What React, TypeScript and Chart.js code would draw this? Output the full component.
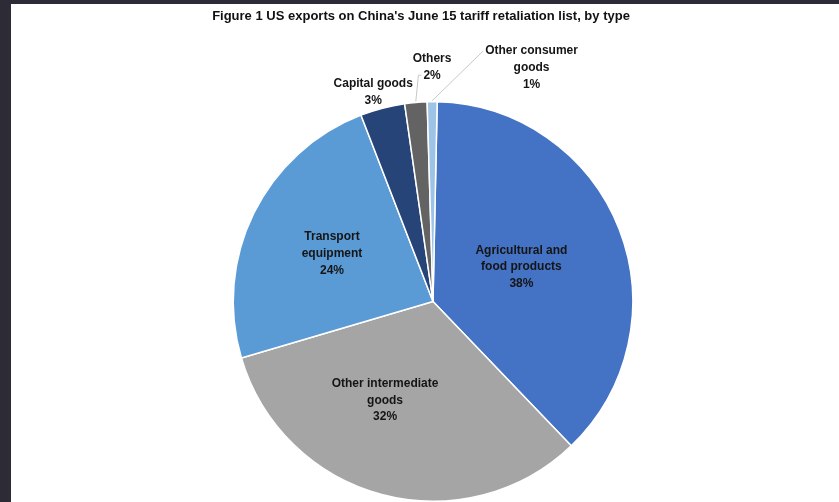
import React, { useEffect, useRef } from "react";
import { Chart, registerables } from "chart.js";

Chart.register(...registerables);

// ---- data ----
const categories = [
  "Agricultural and food products",
  "Other intermediate goods",
  "Transport equipment",
  "Capital goods",
  "Others",
  "Other consumer goods",
];
const labelLines = [
  ["Agricultural and", "food products"],
  ["Other intermediate", "goods"],
  ["Transport", "equipment"],
  ["Capital goods"],
  ["Others"],
  ["Other consumer", "goods"],
];
const shares = [37.5, 32.6, 23.7, 3.6, 1.8, 0.8];
const percentLabels = ["38%", "32%", "24%", "3%", "2%", "1%"];
const sliceColors = ["#4472C4", "#A5A5A5", "#5B9BD5", "#264478", "#636363", "#9DC3E6"];
const titleText = "Figure 1 US exports on China's June 15 tariff retaliation list, by type";

const FONT = "'Liberation Sans', Arial, sans-serif";

const labelPlugin = {
  id: "sliceLabels",
  afterDatasetsDraw(chart: any, _args: any, opts: any) {
    const ctx = chart.ctx as CanvasRenderingContext2D;
    const meta = chart.getDatasetMeta(0);
    ctx.save();
    ctx.textAlign = "center";
    ctx.textBaseline = "middle";
    ctx.fillStyle = opts.color;
    ctx.font = `bold ${opts.fontSize}px ${FONT}`;
    meta.data.forEach((arc: any, i: number) => {
      const p = opts.placements[i];
      const { x, y, startAngle, endAngle, outerRadius } = arc.getProps(
        ["x", "y", "startAngle", "endAngle", "outerRadius"],
        true
      );
      const midA = (startAngle + endAngle) / 2;
      const a = midA + (p.da * Math.PI) / 180;
      const cx = x + Math.cos(a) * outerRadius * p.k;
      const cy = y + Math.sin(a) * outerRadius * p.k;
      const lines = [...labelLines[i], percentLabels[i]];
      const lh = opts.lineHeight;
      lines.forEach((t, j) => {
        ctx.fillText(t, cx, cy + (j - (lines.length - 1) / 2) * lh);
      });
      if (p.leader) {
        const li = p.leader.line;
        const ty = cy + (li - (lines.length - 1) / 2) * lh;
        const tw = ctx.measureText(lines[li]).width;
        const sx = cx - tw / 2 - 2;
        const ex = x + Math.cos(midA) * (outerRadius + 1);
        const ey = y + Math.sin(midA) * (outerRadius + 1);
        ctx.save();
        ctx.strokeStyle = opts.leaderColor;
        ctx.lineWidth = 1;
        ctx.beginPath();
        ctx.moveTo(sx, ty);
        ctx.lineTo(sx - p.leader.dash, ty);
        ctx.lineTo(ex, ey);
        ctx.stroke();
        ctx.restore();
      }
    });
    // title
    ctx.font = `bold ${opts.titleSize}px ${FONT}`;
    ctx.fillStyle = "#111111";
    ctx.fillText(titleText, chart.width / 2 - 4, opts.titleY);
    ctx.restore();
  },
};

export default function App() {
  const ref = useRef<HTMLCanvasElement | null>(null);
  useEffect(() => {
    document.body.style.margin = "0";
    document.body.style.background = "#2c2b36";
    const canvas = ref.current!;
    const chart = new Chart(canvas, {
      type: "pie",
      data: {
        labels: categories,
        datasets: [
          {
            data: shares,
            backgroundColor: sliceColors,
            borderColor: "#ffffff",
            borderWidth: 1.5,
          },
        ],
      },
      options: {
        responsive: false,
        animation: false,
        devicePixelRatio: 1,
        rotation: 1.2,
        layout: { padding: { left: 221, right: 205, top: 97, bottom: 0 } },
        plugins: {
          legend: { display: false },
          tooltip: { enabled: false },
          title: { display: false },
          sliceLabels: {
            color: "#151515",
            fontSize: 12,
            lineHeight: 16.8,
            titleSize: 13,
            titleY: 12,
            leaderColor: "#c8c8c8",
            placements: [
              { k: 0.475, da: 0 },
              { k: 0.55, da: 11 },
              { k: 0.56, da: -0.8 },
              { k: 1.09, da: -1.3 },
              { k: 1.175, da: 4.7, leader: { line: 1, dash: 3 } },
              { k: 1.27, da: 23.1, leader: { line: 0, dash: 0 } },
            ],
          },
        } as any,
      },
      plugins: [labelPlugin],
    });
    return () => chart.destroy();
  }, []);
  return (
    <div
      style={{
        position: "relative",
        width: 839,
        height: 502,
        background: "#2c2b36",
        overflow: "hidden",
      }}
    >
      <canvas
        ref={ref}
        width={828}
        height={498}
        style={{ position: "absolute", left: 11, top: 4, width: 828, height: 498, background: "#ffffff" }}
      />
    </div>
  );
}
